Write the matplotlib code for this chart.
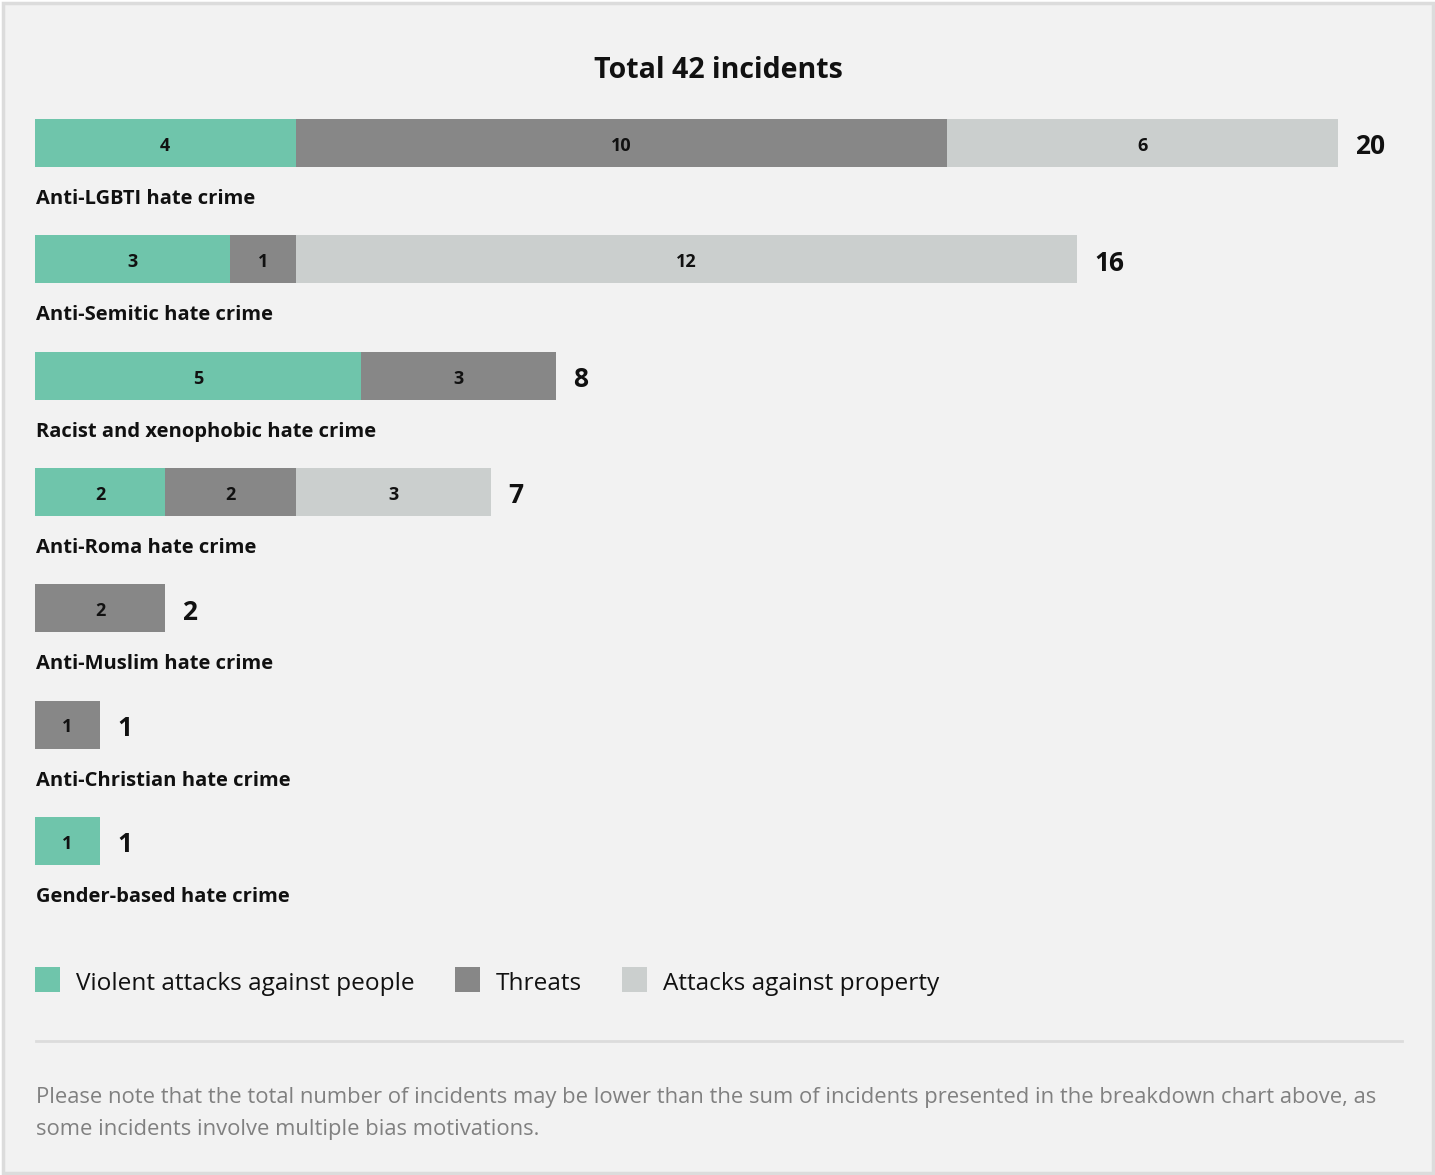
import matplotlib
matplotlib.use("Agg")
import matplotlib.pyplot as plt
from matplotlib.patches import Rectangle
import numpy as np

plt.rcParams['font.family'] = ['Open Sans', 'DejaVu Sans']

# data
categories = ["Anti-LGBTI hate crime", "Anti-Semitic hate crime",
              "Racist and xenophobic hate crime", "Anti-Roma hate crime",
              "Anti-Muslim hate crime", "Anti-Christian hate crime",
              "Gender-based hate crime"]
violent = [4, 3, 5, 2, 0, 0, 1]
threats = [10, 1, 3, 2, 2, 1, 0]
property_ = [6, 12, 0, 3, 0, 0, 0]
series_names = ["Violent attacks against people", "Threats", "Attacks against property"]
colors = ["#6fc5ab", "#878787", "#cbcfce"]
title = "Total 42 incidents"
note = ("Please note that the total number of incidents may be lower than the sum of incidents presented in the breakdown chart above, as\n"
        "some incidents involve multiple bias motivations.")

W, H = 1435, 1175
fig = plt.figure(figsize=(W / 100, H / 100), dpi=100)
fig.patch.set_facecolor("white")

# background panel with border (pixel coords)
bg = fig.add_axes([0, 0, 1, 1])
bg.set_xlim(0, W)
bg.set_ylim(H, 0)
bg.axis("off")
bg.add_patch(Rectangle((3, 3), W - 5, H - 5, facecolor="#f2f2f2", edgecolor="#dcdcdc", lw=2.5))

# chart axes: x in data units, y in pixels
unit = 65.15
x0 = 35
ax = fig.add_axes([0, 0, 1, 1])
ax.set_xlim(-x0 / unit, (W - x0) / unit)
ax.set_ylim(H, 0)
ax.axis("off")

row0, step, bh = 143, 116.3, 48
ys = row0 + step * np.arange(len(categories))
left = np.zeros(len(categories))
for vals, c in zip([violent, threats, property_], colors):
    vals = np.array(vals)
    ax.barh(ys, vals, left=left, height=bh, color=c, linewidth=0)
    for y, l, v in zip(ys, left, vals):
        if v > 0:
            ax.text(l + v / 2, y + 3, str(v), ha="center", va="center",
                    fontsize=13, fontweight="bold", color="#111")
    left = left + vals

totals = np.array(violent) + np.array(threats) + np.array(property_)
for y, t, name in zip(ys, totals, categories):
    ax.text(t + 17 / unit, y + 4, str(t), ha="left", va="center",
            fontsize=19, fontweight="bold", color="#111")
    ax.text(1 / unit, y + 56, name, ha="left", va="center",
            fontsize=14.5, fontweight="bold", color="#111")

bg.text(718, 70, title, ha="center", va="center", fontsize=20.5, fontweight="bold", color="#111")

# legend
lx = 35
for name, c in zip(series_names, colors):
    bg.add_patch(Rectangle((lx, 967), 25, 25, facecolor=c, lw=0))
    t = bg.text(lx + 41, 984, name, ha="left", va="center", fontsize=17.6, color="#111")
    fig.canvas.draw()
    bb = t.get_window_extent()
    lx = bb.x1 + 40

bg.plot([36, 1402], [1041, 1041], color="#dcdcdc", lw=2)
bg.text(36, 1113.5, note, ha="left", va="center", fontsize=15.8, color="#808080", linespacing=1.75)

fig.savefig("out.png", dpi=100, facecolor=fig.get_facecolor())
